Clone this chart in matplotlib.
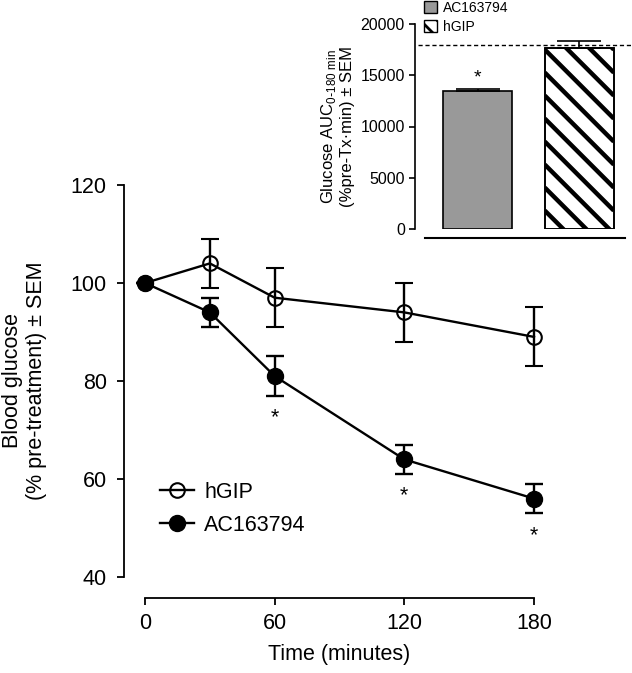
import numpy as np
import matplotlib.pyplot as plt
from matplotlib.patches import Patch
from matplotlib.lines import Line2D
from matplotlib.transforms import IdentityTransform

plt.rcParams['font.family'] = ['Liberation Sans', 'DejaVu Sans']
plt.rcParams['hatch.linewidth'] = 2.0

# time course data
time_min = [0, 30, 60, 120, 180]
hgip_mean = [100, 104, 97, 94, 89]
hgip_sem = [0, 5, 6, 6, 6]
ac_mean = [100, 94, 81, 64, 56]
ac_sem = [0, 3, 4, 3, 3]
ac_signif = [60, 120, 180]

# AUC inset data
auc_groups = ['AC163794', 'hGIP']
auc_mean = [13500, 17700]
auc_sem = [150, 680]
auc_baseline = 18000

W, H = 632, 673
fs = 15.5
fig = plt.figure(figsize=(W / 100, H / 100), dpi=100)

# main axes
ax = fig.add_axes([145 / W, 1 - 577 / H, 389 / W, 392 / H])
ax.errorbar(time_min, hgip_mean, yerr=hgip_sem, color='black', lw=1.7,
            marker='o', ms=10.5, mfc='none', mec='black', mew=1.5,
            capsize=6.5, capthick=1.7, elinewidth=1.7, clip_on=False, zorder=3)
ax.errorbar(time_min, ac_mean, yerr=ac_sem, color='black', lw=1.7,
            marker='o', ms=11.5, mfc='black', mec='black',
            capsize=6.5, capthick=1.7, elinewidth=1.7, clip_on=False, zorder=4)
for t in ac_signif:
    i = time_min.index(t)
    ax.text(t, ac_mean[i] - ac_sem[i] - 4.5, '*', ha='center', va='center', fontsize=fs)

ax.set_xlim(0, 180)
ax.set_ylim(40, 120)
ax.set_xticks([0, 60, 120, 180])
ax.set_yticks([40, 60, 80, 100, 120])
ax.spines[['top', 'right']].set_visible(False)
ax.spines['left'].set_position(('outward', 15))
ax.spines['bottom'].set_position(('outward', 15))
for s in ['left', 'bottom']:
    ax.spines[s].set_linewidth(1.3)
ax.tick_params(labelsize=fs, width=1.3, length=5, direction='out')
ax.tick_params(axis='x', pad=6)
ax.tick_params(axis='y', pad=7.5)
ax.set_xlabel('Time (minutes)', fontsize=fs, labelpad=7)
ax.set_ylabel('Blood glucose\n(% pre-treatment) \u00b1 SEM', fontsize=fs, labelpad=17)

handles = [Line2D([], [], color='black', lw=1.7, marker='o', ms=10.5, mfc='none', mew=1.5),
           Line2D([], [], color='black', lw=1.7, marker='o', ms=11.5, mfc='black')]
ax.legend(handles, ['hGIP', 'AC163794'], loc='upper left', bbox_to_anchor=(160 / W, 1 - 482 / H),
          bbox_transform=fig.transFigure, frameon=False, fontsize=fs, handlelength=1.6,
          handletextpad=0.45, labelspacing=0.55, borderpad=0, borderaxespad=0)

# inset axes
ins = fig.add_axes([425 / W, 1 - 229 / H, 200 / W, 205 / H])
ins.set_xlim(-0.52, 1.45)
ins.set_ylim(0, 20000)
x = np.arange(len(auc_groups))
bw = 0.68
ins.bar(x[0], auc_mean[0], width=bw, color='#999999', edgecolor='black', lw=1.2, zorder=2)
hbar = ins.bar(x[1], auc_mean[1], width=bw, color='white', edgecolor='black', lw=1.2, zorder=2)[0]

# diagonal hatch for hGIP bar, drawn in pixel space and clipped to the bar
px0, py0 = ins.transData.transform((x[1] - bw / 2, 0))
px1, py1 = ins.transData.transform((x[1] + bw / 2, auc_mean[1]))
step = 23
for c in np.arange(px0 + py1 - 2, px0 + py0 - px1 - step, -step)[::-1].tolist() + \
         np.arange(px0 + py1 - 2 + step, px1 + py1 + step, step).tolist():
    ln = ins.plot([px0, px1], [c - px0, c - px1], color='black', lw=3.2,
                  transform=IdentityTransform(), solid_capstyle='butt', zorder=2.5)[0]
    ln.set_clip_path(hbar)
ins.bar(x[1], auc_mean[1], width=bw, color='none', edgecolor='black', lw=1.2, zorder=3)

ins.errorbar(x, auc_mean, yerr=[[0, 0], auc_sem], fmt='none', ecolor='black',
             capsize=16, capthick=1.2, elinewidth=1.2, zorder=3)
ins.text(x[0], auc_mean[0] + auc_sem[0] + 1100, '*', ha='center', va='center', fontsize=14)
ins.axhline(auc_baseline, xmin=-0.035, xmax=1.05, color='black', lw=1, ls=(0, (3, 2)), clip_on=False)
ins.set_yticks([0, 5000, 10000, 15000, 20000])
ins.set_xticks([])
ins.spines[['top', 'right']].set_visible(False)
ins.spines['left'].set_position(('outward', 7))
ins.spines['bottom'].set_position(('outward', 6.5))
ins.spines['left'].set_linewidth(1.2)
ins.spines['bottom'].set_linewidth(1.5)
ins.tick_params(axis='y', labelsize=11.5, width=1.2, length=4)
ins.set_ylabel('Glucose AUC$_{\\mathregular{0\\text{-}180\\ min}}$\n(%pre-Tx\u00b7min) \u00b1 SEM',
               fontsize=12, labelpad=4)

inset_handles = [Patch(facecolor='#999999', edgecolor='black', lw=1),
                 Patch(facecolor='white', edgecolor='black', lw=1, hatch='\\\\')]
ins.legend(inset_handles, auc_groups, loc='upper left', bbox_to_anchor=(424 / W, 1 - 1 / H),
           bbox_transform=fig.transFigure, frameon=False, fontsize=10, handlelength=0.9,
           handleheight=0.9, handletextpad=0.5, labelspacing=0.35, borderpad=0, borderaxespad=0)

fig.savefig('out.png', dpi=100)
